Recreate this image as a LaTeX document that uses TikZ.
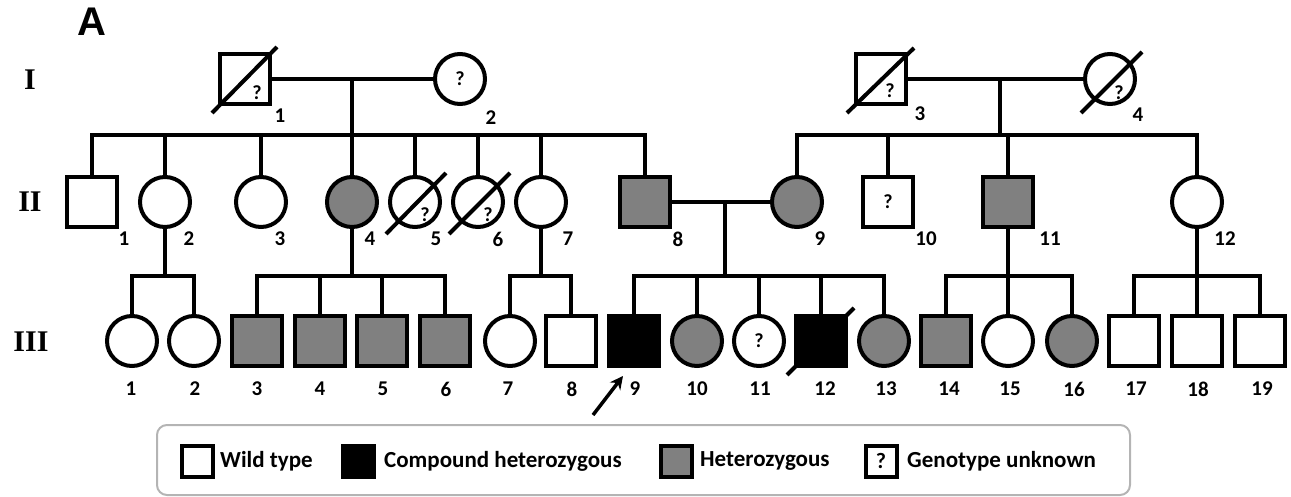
\documentclass[tikz,border=0pt]{standalone}
\usepackage{fontspec}
\setmainfont{Carlito}
\newfontfamily\serifbold{Liberation Serif}
\newfontfamily\panelfont{Liberation Sans}
\usetikzlibrary{calc,arrows.meta}
\definecolor{het}{RGB}{128,128,128}
\definecolor{chet}{RGB}{0,0,0}
\definecolor{legbd}{RGB}{180,180,180}
\tikzset{
  ln/.style={line width=4pt},
  male/.style={rectangle, draw, ln, minimum width=50pt, minimum height=50pt, inner sep=0pt, fill=white},
  female/.style={circle, draw, ln, minimum size=50pt, inner sep=0pt, fill=white},
  hetfill/.style={fill=het},
  chetfill/.style={fill=chet},
  num/.style={font=\bfseries\fontsize{21}{24}\selectfont, inner sep=0pt},
  qm/.style={font=\bfseries\fontsize{20}{22}\selectfont, inner sep=0pt},
  gen/.style={font=\serifbold\bfseries\fontsize{30}{34}\selectfont, inner sep=0pt},
  conn/.style={ln},
  dead/.style={line width=4pt},
  legsym/.style={rectangle, draw, ln, minimum size=31pt, inner sep=0pt},
  legtxt/.style={font=\bfseries\fontsize{23}{26}\selectfont, anchor=west, inner sep=0pt},
}
\begin{document}
\begin{tikzpicture}[x=1pt,y=-1pt]
\useasboundingbox (0,0) rectangle (1291,497);
% panel letter and generation labels
\node[font=\panelfont\bfseries\fontsize{40}{42}\selectfont, inner sep=0pt] (panelA) at (92,22) {A};
\node[gen] (gI) at (30,80) {I};
\node[gen] (gII) at (30,202) {II};
\node[gen] (gIII) at (31,342) {III};

% Generation I
\node[male] (I1) at (245,79) {};
\node[female] (I2) at (460,79) {};
\node[male] (I3) at (881,79) {};
\node[female] (I4) at (1110,79) {};
\node[qm] (qI1) at ($(I1)+(12,14)$) {?};
\node[qm] (qI2) at (I2) {?};
\node[qm] (qI3) at ($(I3)+(9,12)$) {?};
\node[qm] (qI4) at ($(I4)+(9,14)$) {?};
\draw[dead] ($(I1)+(-33,34)$) -- ($(I1)+(32,-32)$);
\draw[dead] ($(I3)+(-34,34)$) -- ($(I3)+(33,-31)$);
\draw[dead] ($(I4)+(-29,34)$) -- ($(I4)+(32,-27)$);
\node[num] (nI1) at (280,116) {1};
\node[num] (nI2) at (491,118) {2};
\node[num] (nI3) at (920,114) {3};
\node[num] (nI4) at (1138,115) {4};

% Generation II
\node[male] (II1) at (92,202) {};
\node[female] (II2) at (165,202) {};
\node[female] (II3) at (261,202) {};
\node[female,hetfill] (II4) at (352,202) {};
\node[female] (II5) at (415,202) {};
\node[female] (II6) at (478,202) {};
\node[female] (II7) at (541,202) {};
\node[male,hetfill] (II8) at (645,202) {};
\node[female,hetfill] (II9) at (797,202) {};
\node[male] (II10) at (888,202) {};
\node[male,hetfill] (II11) at (1008,202) {};
\node[female] (II12) at (1197,202) {};
\node[qm] (qII5) at ($(II5)+(10,13)$) {?};
\node[qm] (qII6) at ($(II6)+(10,13)$) {?};
\node[qm] (qII10) at (II10) {?};
\draw[dead] ($(II5)+(-29,32)$) -- ($(II5)+(31,-29)$);
\draw[dead] ($(II6)+(-29,32)$) -- ($(II6)+(32,-29)$);
\node[num] (nII1) at (124,239) {1};
\node[num] (nII2) at (189,239) {2};
\node[num] (nII3) at (280,239) {3};
\node[num] (nII4) at (370,239) {4};
\node[num] (nII5) at (436,239) {5};
\node[num] (nII6) at (498,239) {6};
\node[num] (nII7) at (568,239) {7};
\node[num] (nII8) at (678,239) {8};
\node[num] (nII9) at (820,239) {9};
\node[num] (nII10) at (926,239) {10};
\node[num] (nII11) at (1050,239) {11};
\node[num] (nII12) at (1225,239) {12};

% Generation III
\node[female] (III1) at (132,341) {};
\node[female] (III2) at (194,341) {};
\node[male,hetfill] (III3) at (257,341) {};
\node[male,hetfill] (III4) at (320,341) {};
\node[male,hetfill] (III5) at (382,341) {};
\node[male,hetfill] (III6) at (445,341) {};
\node[female] (III7) at (510,341) {};
\node[male] (III8) at (571,341) {};
\node[male,chetfill] (III9) at (634,341) {};
\node[female,hetfill] (III10) at (697,341) {};
\node[female] (III11) at (759,341) {};
\node[male,chetfill] (III12) at (821,341) {};
\node[female,hetfill] (III13) at (884,341) {};
\node[male,hetfill] (III14) at (946,341) {};
\node[female] (III15) at (1008,341) {};
\node[female,hetfill] (III16) at (1072,341) {};
\node[male] (III17) at (1134,341) {};
\node[male] (III18) at (1197,341) {};
\node[male] (III19) at (1260,341) {};
\node[qm] (qIII11) at (III11) {?};
\draw[dead] ($(III12)+(-34,34)$) -- ($(III12)+(33,-33)$);
\foreach \n/\x/\t in {1/131/1,2/195/2,3/257/3,4/320/4,5/383/5,6/446/6,7/508/7,8/572/8,9/635/9,10/697/10,11/760/11,12/825/12,13/886/13,14/949/14,15/1010/15,16/1074/16,17/1136/17,18/1198/18,19/1262/19}
  \node[num] (nIII\n) at (\x,389) {\t};

% couple lines and descent junctions
\coordinate (m12) at (352,79);
\coordinate (d12) at (352,135);
\coordinate (m34) at (1000,79);
\coordinate (d34) at (1000,135);
\coordinate (m89) at (725,202);
\coordinate (d89) at (725,276);
\coordinate (d2) at (165,276);
\coordinate (d4) at (352,276);
\coordinate (d7) at (541,276);
\coordinate (d11) at (1008,276);
\coordinate (d12b) at (1197,276);

\draw[conn] (I1) -- (I2);
\draw[conn] (I3) -- (I4);
\draw[conn] (II8) -- (II9);
\draw[conn] (m12) -- (d12);
\draw[conn] (m34) -- (d34);
\draw[conn] (m89) -- (d89);
\draw[conn] (II2) -- (d2);
\draw[conn] (II4) -- (d4);
\draw[conn] (II7) -- (d7);
\draw[conn] (II11) -- (d11);
\draw[conn] (II12) -- (d12b);
\foreach \c in {II1,II2,II3,II4,II5,II6,II7,II8} \draw[conn] (\c) |- (d12);
\foreach \c in {II9,II10,II11,II12} \draw[conn] (\c) |- (d34);
\foreach \c in {III1,III2} \draw[conn] (\c) |- (d2);
\foreach \c in {III3,III4,III5,III6} \draw[conn] (\c) |- (d4);
\foreach \c in {III7,III8} \draw[conn] (\c) |- (d7);
\foreach \c in {III9,III10,III11,III12,III13} \draw[conn] (\c) |- (d89);
\foreach \c in {III14,III15,III16} \draw[conn] (\c) |- (d11);
\foreach \c in {III17,III18,III19} \draw[conn] (\c) |- (d12b);

% proband arrow
\coordinate (arrS) at (593,415);
\coordinate (arrE) at (623,376);
\draw[line width=3.5pt, -{Stealth[length=13pt,width=13pt]}] (arrS) -- (arrE);

% legend
\draw[legbd, line width=2pt, rounded corners=10pt] (157,425) rectangle (1130,495);
\node[legsym] (lw) at (197,461) {};
\node[legtxt] (lwt) at (220,461) {Wild type};
\node[legsym, fill=chet] (lc) at (358,461) {};
\node[legtxt] (lct) at (384,461) {Compound heterozygous};
\node[legsym, fill=het] (lh) at (676,461) {};
\node[legtxt] (lht) at (700,461) {Heterozygous};
\node[legsym] (lq) at (881,461) {};
\node[qm, font=\bfseries\fontsize{22}{24}\selectfont] (lqm) at (lq) {?};
\node[legtxt] (lqt) at (907,461) {Genotype unknown};
\end{tikzpicture}
\end{document}
